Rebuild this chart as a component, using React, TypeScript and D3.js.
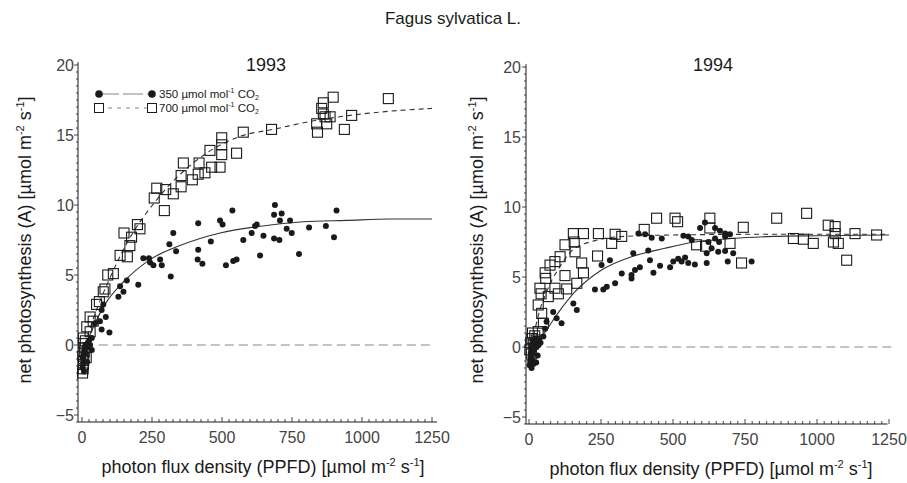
import React from "react";
import * as d3 from "d3";

// ---- data ----
const xTicks = [0, 250, 500, 750, 1000, 1250];
const yTicks = [-5, 0, 5, 10, 15, 20];
const years = ["1993", "1994"];
const legendLabels = ["350", "700"];

// 1993, 350 µmol mol-1 CO2 (filled circles) [PPFD, A]
const c93: [number, number][] = [
  [2, -1.6], [4, -1.3], [5, -1.0], [6, -0.7], [8, -0.4], [3, -0.9], [10, -0.2], [12, 0.0], [7, -1.9],
  [14, -0.6], [16, -0.2], [20, 0.1], [25, 0.3], [29, 0.0], [35, -0.35], [35, 0.5], [18, -1.2],
  [46, 1.55], [64, 1.7], [70, 1.1], [98, 0.9], [70, 2.5], [76, 2.9], [85, 2.0], [130, 3.45], [148, 3.8],
  [136, 4.2], [160, 4.6], [201, 4.3], [219, 6.2], [239, 6.2], [243, 5.9], [255, 5.7], [279, 6.1],
  [285, 5.7], [312, 7.2], [317, 4.9], [326, 8.0], [336, 6.7], [413, 6.1], [415, 6.8], [415, 8.7],
  [430, 5.8], [460, 7.4], [493, 8.9], [502, 8.6], [514, 5.7], [537, 9.6], [540, 6.0], [552, 6.1],
  [576, 7.5], [606, 8.0], [618, 8.5], [624, 8.6], [636, 6.4], [648, 7.8], [686, 9.3], [686, 7.6],
  [689, 10.0], [705, 7.5], [707, 8.9], [713, 9.4], [731, 8.3], [743, 8.9], [749, 8.0], [775, 6.5],
  [811, 8.4], [871, 8.5], [900, 7.7], [909, 9.6],
];

// 1993, 700 µmol mol-1 CO2 (open squares)
const s93: [number, number][] = [
  [2, -2.0], [4, -1.7], [5, -1.4], [6, -1.1], [3, -0.8], [8, -0.5], [10, -0.2], [6, 0.1], [12, 0.3],
  [5, 0.5], [15, -0.9], [17, 1.3], [29, 0.95], [29, 2.0], [40, 1.7], [52, 2.9], [62, 3.1], [76, 3.8],
  [82, 4.0], [92, 5.0], [112, 5.1], [136, 6.4], [150, 8.0], [162, 6.3], [171, 7.1], [177, 7.7],
  [198, 8.6], [207, 8.3], [258, 10.5], [267, 11.2], [294, 9.6], [299, 11.1], [326, 10.8], [354, 11.3],
  [354, 12.1], [362, 13.0], [394, 11.8], [415, 12.2], [418, 13.0], [439, 12.3], [457, 13.9],
  [463, 12.7], [493, 12.7], [499, 13.6], [499, 14.3], [499, 14.8], [552, 13.7], [576, 15.2],
  [677, 15.4], [838, 15.8], [841, 15.2], [856, 16.9], [862, 17.3], [862, 16.5], [868, 16.3],
  [874, 15.8], [886, 16.3], [897, 17.7], [937, 15.4], [963, 16.4], [1094, 17.6],
];

// 1994, 350 (filled circles)
const c94: [number, number][] = [
  [2, -1.3], [4, -1.0], [5, -0.7], [6, -0.4], [8, -0.1], [10, 0.2], [12, -0.9], [14, -0.5], [15, 0.4],
  [18, -0.2], [20, 0.6], [22, 0.0], [25, -1.1], [28, 0.3], [30, -0.6], [9, -1.5], [16, -1.2], [32, 0.1],
  [35, 0.5], [40, 0.3], [50, 0.75], [56, 1.3], [61, 1.8], [84, 2.5], [96, 2.05], [113, 1.7], [154, 3.1],
  [166, 2.65], [229, 4.1], [252, 5.85], [258, 4.1], [270, 4.3], [281, 6.2], [299, 4.55], [322, 5.25],
  [356, 5.15], [356, 4.9], [362, 6.7], [368, 5.5], [380, 8.1], [385, 5.7], [403, 8.05], [414, 6.9],
  [420, 6.2], [426, 7.8], [432, 5.3], [455, 5.8], [461, 7.75], [490, 5.7], [501, 6.1], [518, 6.3],
  [530, 6.1], [536, 7.95], [542, 6.4], [553, 7.9], [553, 6.0], [565, 7.65], [576, 5.9], [594, 8.5],
  [611, 8.9], [617, 6.7], [617, 6.0], [623, 7.5], [634, 7.05], [646, 8.5], [646, 7.75], [657, 6.8],
  [660, 7.5], [663, 8.3], [681, 8.1], [681, 7.9], [681, 6.85], [690, 6.1], [698, 8.05], [709, 6.7],
  [773, 6.1],
];

// 1994, 700 (open squares)
const s94: [number, number][] = [
  [3, -0.2], [6, 0.3], [10, 0.6], [15, 0.2], [8, -0.5], [20, 0.8], [12, 1.0], [25, 0.5], [32, 1.1],
  [50, 1.7], [44, 2.4], [32, 3.0], [67, 3.6], [42, 3.8], [38, 4.2], [102, 3.8], [90, 4.2], [131, 4.15],
  [56, 5.3], [58, 4.9], [73, 5.85], [90, 6.1], [108, 6.45], [125, 7.3], [125, 5.1], [154, 8.1],
  [157, 7.5], [160, 6.8], [166, 4.55], [183, 6.0], [189, 8.1], [189, 5.3], [238, 6.5], [241, 8.1],
  [287, 7.4], [299, 8.05], [322, 7.9], [400, 8.4], [443, 9.2], [507, 9.2], [516, 8.95], [582, 7.3],
  [613, 7.2], [628, 9.2], [628, 8.5], [698, 7.4], [738, 6.0], [744, 8.55], [860, 9.2], [918, 7.75],
  [953, 7.7], [964, 9.55], [987, 7.4], [1039, 8.7], [1057, 7.5], [1063, 8.6], [1063, 8.1],
  [1074, 7.4], [1103, 6.2], [1132, 8.1], [1207, 8.0],
];

// fitted light-response curves
const fit93_350: [number, number][] = [
  [8, -0.3], [30, 0.8], [82, 2.9], [148, 4.5], [243, 6.1], [350, 7.1], [493, 8.0], [624, 8.45],
  [790, 8.8], [945, 8.9], [1100, 9.0], [1250, 9.0],
];
const fit93_700: [number, number][] = [
  [10, 0.0], [39, 1.8], [100, 4.8], [161, 7.3], [268, 10.4], [397, 13.0], [564, 14.9], [682, 15.4],
  [850, 16.1], [957, 16.4], [1100, 16.7], [1250, 16.9],
];
const fit94_350: [number, number][] = [
  [10, -0.3], [30, 0.3], [67, 1.4], [100, 2.4], [160, 3.95], [252, 5.5], [356, 6.45], [472, 7.05],
  [576, 7.5], [704, 7.75], [850, 7.9], [1000, 7.95], [1250, 8.0],
];
const fit94_700: [number, number][] = [
  [10, 0.2], [20, 1.2], [40, 2.8], [60, 3.9], [80, 4.8], [100, 5.5], [150, 6.9], [230, 7.6],
  [330, 7.9], [500, 8.0], [800, 8.05], [1250, 8.05],
];

const circlesByYear = [c93, c94];
const squaresByYear = [s93, s94];
const fit350ByYear = [fit93_350, fit94_350];
const fit700ByYear = [fit93_700, fit94_700];

// ---- layout ----
const panelLayout = [
  { xr: [82, 432], yr: [415, 65], axisX: 78, axisEnd: 1268, yLabelX: 25, xLabelX: 263, titleX: 266, tickLabelX: 74 },
  { xr: [529, 889], yr: [417, 67], axisX: 526, axisEnd: 1245, yLabelX: 477, xLabelX: 711, titleX: 713, tickLabelX: 521 },
];

const FONT = "'Liberation Sans', Arial, Helvetica, sans-serif";
const INK = "#1a1a1a";

function Panel({ idx }: { idx: number }) {
  const L = panelLayout[idx];
  const x = d3.scaleLinear().domain([0, 1250]).range(L.xr as [number, number]);
  const y = d3.scaleLinear().domain([-5, 20]).range(L.yr as [number, number]);
  const yBottom = y(-5.5);
  const yTop = y(20.2);
  const xEnd = x(L.axisEnd);
  const line = d3
    .line<[number, number]>()
    .x((d) => x(d[0]))
    .y((d) => y(d[1]))
    .curve(d3.curveMonotoneX);

  const xMinor = d3.range(0, 1251, 25);
  const yMinor = d3.range(-5.5, 20.01, 0.5);

  return (
    <g fontFamily={FONT}>
      {/* zero line */}
      <line x1={x(60)} x2={x(1260)} y1={y(0)} y2={y(0)} stroke="#888" strokeWidth={1.2} strokeDasharray="9,5" />
      {/* axes */}
      <line x1={L.axisX} x2={L.axisX} y1={yTop} y2={yBottom} stroke={INK} strokeWidth={1} />
      <line x1={L.axisX} x2={xEnd} y1={yBottom} y2={yBottom} stroke={INK} strokeWidth={1} />
      {yMinor.map((v, i) => {
        const major = Math.abs(v % 5) < 1e-6;
        return (
          <line key={"ym" + i} x1={L.axisX - (major ? 4 : 2)} x2={L.axisX} y1={y(v)} y2={y(v)} stroke={INK} strokeWidth={0.8} />
        );
      })}
      {xMinor.map((v, i) => {
        const major = v % 250 === 0;
        return (
          <line key={"xm" + i} x1={x(v)} x2={x(v)} y1={yBottom} y2={yBottom - (major ? 5 : 3)} stroke={INK} strokeWidth={0.8} />
        );
      })}
      {yTicks.map((t) => (
        <text key={"yt" + t} x={L.tickLabelX} y={y(t) + 5.5} fontSize={16} fill="#444" textAnchor="end">
          {t < 0 ? "\u2212" + Math.abs(t) : t}
        </text>
      ))}
      {xTicks.map((t) => (
        <text key={"xt" + t} x={x(t)} y={yBottom + 21} fontSize={16} fill="#444" textAnchor="middle">
          {t}
        </text>
      ))}
      {/* axis titles */}
      <text x={L.xLabelX} y={yBottom + 51} fontSize={18} fill={INK} textAnchor="middle">
        photon flux density (PPFD) [µmol m
        <tspan dy={-7} fontSize={11}>-2</tspan>
        <tspan dy={7}> s</tspan>
        <tspan dy={-7} fontSize={11}>-1</tspan>
        <tspan dy={7}>]</tspan>
      </text>
      <text
        transform={`translate(${L.yLabelX},240) rotate(-90)`}
        fontSize={18}
        fill={INK}
        textAnchor="middle"
        dy={6}
      >
        net photosynthesis (A) [µmol m
        <tspan dy={-7} fontSize={11}>-2</tspan>
        <tspan dy={7}> s</tspan>
        <tspan dy={-7} fontSize={11}>-1</tspan>
        <tspan dy={7}>]</tspan>
      </text>
      <text x={L.titleX} y={71} fontSize={18} fill={INK} textAnchor="middle">
        {years[idx]}
      </text>
      {/* fitted curves */}
      <path d={line(fit350ByYear[idx]) || ""} fill="none" stroke="#333" strokeWidth={1.1} />
      <path d={line(fit700ByYear[idx]) || ""} fill="none" stroke="#333" strokeWidth={1.1} strokeDasharray="5,4" />
      {/* points */}
      {squaresByYear[idx].map((d, i) => (
        <rect key={"s" + i} x={x(d[0]) - 5} y={y(d[1]) - 5} width={10} height={10} fill="none" stroke={INK} strokeWidth={1.1} />
      ))}
      {circlesByYear[idx].map((d, i) => (
        <circle key={"c" + i} cx={x(d[0])} cy={y(d[1])} r={3} fill={INK} />
      ))}
    </g>
  );
}

function Legend() {
  const rows = [
    { y: 94, filled: true, label: legendLabels[0] },
    { y: 108, filled: false, label: legendLabels[1] },
  ];
  return (
    <g fontFamily={FONT}>
      {rows.map((r) => (
        <g key={r.label}>
          <line x1={99} x2={152} y1={r.y} y2={r.y} stroke="#777" strokeWidth={0.9} strokeDasharray={r.filled ? "20,4" : "4,5"} />
          {r.filled ? (
            <>
              <circle cx={99} cy={r.y} r={3.8} fill={INK} />
              <circle cx={152} cy={r.y} r={3.8} fill={INK} />
            </>
          ) : (
            <>
              <rect x={94.5} y={r.y - 4.5} width={9} height={9} fill="white" stroke={INK} />
              <rect x={147.5} y={r.y - 4.5} width={9} height={9} fill="white" stroke={INK} />
            </>
          )}
          <text x={159} y={r.y + 4} fontSize={11.5} fill={INK}>
            {r.label} µmol mol
            <tspan dy={-5} fontSize={7}>-1</tspan>
            <tspan dy={5}> CO</tspan>
            <tspan dy={2} fontSize={7}>2</tspan>
          </text>
        </g>
      ))}
    </g>
  );
}

export default function App() {
  return (
    <svg
      width={907}
      height={483}
      viewBox="0 0 907 483"
      style={{ position: "absolute", left: 0, top: 0, background: "white" }}
    >
      <rect width={907} height={483} fill="white" />
      <text x={453} y={24} fontSize={17} fill={INK} textAnchor="middle" fontFamily={FONT}>
        Fagus sylvatica L.
      </text>
      <Panel idx={0} />
      <Panel idx={1} />
      <Legend />
    </svg>
  );
}
